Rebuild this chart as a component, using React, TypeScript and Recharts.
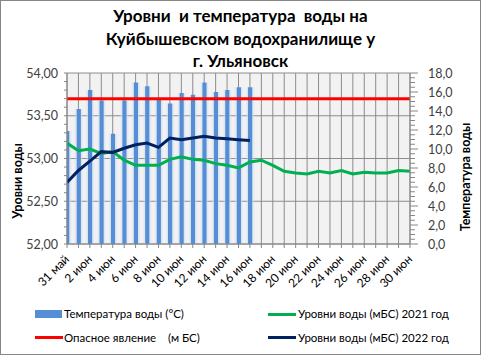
import React from 'react';
import { ComposedChart, Bar, Line, XAxis, YAxis, CartesianGrid } from 'recharts';

const days = ['31 май', '1 июн', '2 июн', '3 июн', '4 июн', '5 июн', '6 июн', '7 июн', '8 июн', '9 июн', '10 июн', '11 июн', '12 июн', '13 июн', '14 июн', '15 июн', '16 июн', '17 июн', '18 июн', '19 июн', '20 июн', '21 июн', '22 июн', '23 июн', '24 июн', '25 июн', '26 июн', '27 июн', '28 июн', '29 июн', '30 июн'];
const temperature = [11.9, 14.2, 16.2, 15.1, 11.6, 15.1, 17.0, 16.6, 15.2, 14.8, 15.9, 15.7, 17.0, 16.0, 16.2, 16.5, 16.5];
const level2021 = [53.18, 53.09, 53.11, 53.06, 53.08, 52.98, 52.92, 52.92, 52.92, 52.99, 53.02, 52.99, 52.98, 52.94, 52.92, 52.89, 52.96, 52.98, 52.92, 52.85, 52.83, 52.82, 52.85, 52.83, 52.86, 52.82, 52.84, 52.83, 52.83, 52.86, 52.85];
const level2022 = [52.72, 52.86, 52.97, 53.08, 53.07, 53.12, 53.16, 53.18, 53.13, 53.24, 53.22, 53.24, 53.26, 53.24, 53.23, 53.22, 53.21];
const danger = [53.7, 53.7, 53.7, 53.7, 53.7, 53.7, 53.7, 53.7, 53.7, 53.7, 53.7, 53.7, 53.7, 53.7, 53.7, 53.7, 53.7, 53.7, 53.7, 53.7, 53.7, 53.7, 53.7, 53.7, 53.7, 53.7, 53.7, 53.7, 53.7, 53.7, 53.7];
const leftTicks = [52, 52.1, 52.2, 52.3, 52.4, 52.5, 52.6, 52.7, 52.8, 52.9, 53, 53.1, 53.2, 53.3, 53.4, 53.5, 53.6, 53.7, 53.8, 53.9, 54];
const leftMajor = [52, 52.5, 53, 53.5, 54];
const rightTicks = [0, 0.5, 1, 1.5, 2, 2.5, 3, 3.5, 4, 4.5, 5, 5.5, 6, 6.5, 7, 7.5, 8, 8.5, 9, 9.5, 10, 10.5, 11, 11.5, 12, 12.5, 13, 13.5, 14, 14.5, 15, 15.5, 16, 16.5, 17, 17.5, 18];
const rightMajor = [0, 2, 4, 6, 8, 10, 12, 14, 16, 18];
const xTicks = days.map((_, i) => i);

const data = days.map((d, i) => ({
  idx: i,
  day: d,
  temp: temperature[i],
  l2021: level2021[i],
  l2022: level2022[i],
  danger: danger[i],
}));

const FONT = 'Lato, "Liberation Sans", sans-serif';
const AXIS = '#868686';

const LeftTick = (props: any) => {
  const { x, y, payload } = props;
  const v = payload.value as number;
  const major = leftMajor.some((m) => Math.abs(m - v) < 1e-6);
  return (
    <g>
      <line x1={x - 3} x2={x} y1={y} y2={y} stroke={AXIS} />
      {major && (
        <text x={x - 9} y={y} dy={4.5} textAnchor="end" fontSize={12.5} fill="#404040" fontFamily={FONT}>
          {v.toFixed(2).replace('.', ',')}
        </text>
      )}
    </g>
  );
};

const RightTick = (props: any) => {
  const { x, y, payload } = props;
  const v = payload.value as number;
  const major = rightMajor.some((m) => Math.abs(m - v) < 1e-6);
  return (
    <g>
      <line x1={x} x2={x + (major ? 8 : 5)} y1={y} y2={y} stroke={AXIS} />
      {major && (
        <text x={x + 18} y={y} dy={4.5} textAnchor="start" fontSize={12.5} fill="#404040" fontFamily={FONT}>
          {v.toFixed(1).replace('.', ',')}
        </text>
      )}
    </g>
  );
};

const BottomTick = (props: any) => {
  const { x, y, payload } = props;
  const i = payload.value as number;
  return (
    <g>
      <line x1={x} x2={x} y1={y} y2={y + 4} stroke={AXIS} />
      {i % 2 === 0 && (
        <text
          x={x + 3}
          y={y + 16}
          textAnchor="end"
          fontSize={12}
          fill="#000"
          fontFamily={FONT}
          transform={`rotate(-45 ${x + 3} ${y + 16})`}
        >
          {days[i]}
        </text>
      )}
    </g>
  );
};

const legendText: React.CSSProperties = {
  position: 'absolute',
  fontFamily: FONT,
  fontSize: 11.5,
  color: '#000',
  whiteSpace: 'pre',
  lineHeight: '14px',
};

export default function App() {
  return (
    <div
      style={{
        position: 'absolute',
        left: 0,
        top: 0,
        width: 481,
        height: 355,
        background: '#fff',
        boxSizing: 'border-box',
        border: '1px solid #868686',
        fontFamily: FONT,
      }}
    >
      <div style={{ position: 'absolute', left: -1, top: -1 }}>
        <ComposedChart width={481} height={355} data={data} margin={{ top: 73, right: 0, left: 0, bottom: 51 }}>
          <defs>
            <linearGradient id="barGrad" x1="0" y1="0" x2="1" y2="0">
              <stop offset="0%" stopColor="#dce6f2" stopOpacity={0} />
              <stop offset="25%" stopColor="#c6d9f1" stopOpacity={0.6} />
              <stop offset="33%" stopColor="#558ed5" stopOpacity={1} />
              <stop offset="67%" stopColor="#558ed5" stopOpacity={1} />
              <stop offset="75%" stopColor="#c6d9f1" stopOpacity={0.6} />
              <stop offset="100%" stopColor="#dce6f2" stopOpacity={0} />
            </linearGradient>
          </defs>
          <CartesianGrid
            fill="#f2f2f2"
            stroke="#8c8c8c"
            horizontalValues={leftMajor}
            verticalValues={xTicks}
            yAxisId="left"
          />
          <XAxis
            dataKey="idx"
            type="number"
            domain={[0, 30]}
            ticks={xTicks}
            interval={0}
            allowDataOverflow
            height={60}
            tickSize={0}
            tickMargin={0}
            tick={<BottomTick />}
            axisLine={{ stroke: AXIS }}
            tickLine={false}
          />
          <YAxis
            yAxisId="left"
            orientation="left"
            domain={[52, 54]}
            ticks={leftTicks}
            interval={0}
            width={67}
            tickSize={0}
            tickMargin={0}
            tick={<LeftTick />}
            axisLine={{ stroke: AXIS }}
            tickLine={false}
          />
          <YAxis
            yAxisId="right"
            orientation="right"
            domain={[0, 18]}
            ticks={rightTicks}
            interval={0}
            width={71}
            tickSize={0}
            tickMargin={0}
            tick={<RightTick />}
            axisLine={{ stroke: AXIS }}
            tickLine={false}
          />
          <Bar yAxisId="right" dataKey="temp" barSize={10} fill="url(#barGrad)" isAnimationActive={false} />
          <Line yAxisId="left" dataKey="l2021" stroke="#00b050" strokeWidth={3} dot={false} isAnimationActive={false} />
          <Line yAxisId="left" dataKey="l2022" stroke="#002060" strokeWidth={3} dot={false} isAnimationActive={false} />
          <Line yAxisId="left" dataKey="danger" stroke="#ff0000" strokeWidth={3} dot={false} isAnimationActive={false} />
        </ComposedChart>
      </div>

      <div
        style={{
          position: 'absolute',
          left: 0,
          top: 4,
          width: 479,
          textAlign: 'center',
          fontWeight: 'bold',
          fontSize: 17,
          lineHeight: '22.5px',
          color: '#000',
        }}
      >
        <div>Уровни&nbsp; и температура&nbsp; воды на</div>
        <div>Куйбышевском водохранилище у</div>
        <div>г. Ульяновск</div>
      </div>

      <div
        style={{
          position: 'absolute',
          left: 17 - 60,
          top: 180 - 8,
          width: 120,
          height: 16,
          textAlign: 'center',
          transform: 'rotate(-90deg)',
          fontWeight: 'bold',
          fontSize: 12.5,
          lineHeight: '16px',
        }}
      >
        Уровни воды
      </div>
      <div
        style={{
          position: 'absolute',
          left: 465 - 70,
          top: 176 - 8,
          width: 140,
          height: 16,
          textAlign: 'center',
          transform: 'rotate(-90deg)',
          fontWeight: 'bold',
          fontSize: 12.5,
          lineHeight: '16px',
        }}
      >
        Температура воды
      </div>

      <div style={{ position: 'absolute', left: 34, top: 309, width: 27, height: 8, background: '#558ed5' }} />
      <div style={{ ...legendText, left: 63, top: 306 }}>Температура воды (°С)</div>
      <div style={{ position: 'absolute', left: 267, top: 311.5, width: 28, height: 3, background: '#00b050' }} />
      <div style={{ ...legendText, left: 297, top: 306 }}>Уровни воды (мБС) 2021 год</div>
      <div style={{ position: 'absolute', left: 34, top: 335, width: 28, height: 3, background: '#ff0000' }} />
      <div style={{ ...legendText, left: 63, top: 330 }}>Опасное явление    (м БС)</div>
      <div style={{ position: 'absolute', left: 267, top: 335, width: 28, height: 3, background: '#002060' }} />
      <div style={{ ...legendText, left: 297, top: 330 }}>Уровни воды (мБС) 2022 год</div>
    </div>
  );
}
